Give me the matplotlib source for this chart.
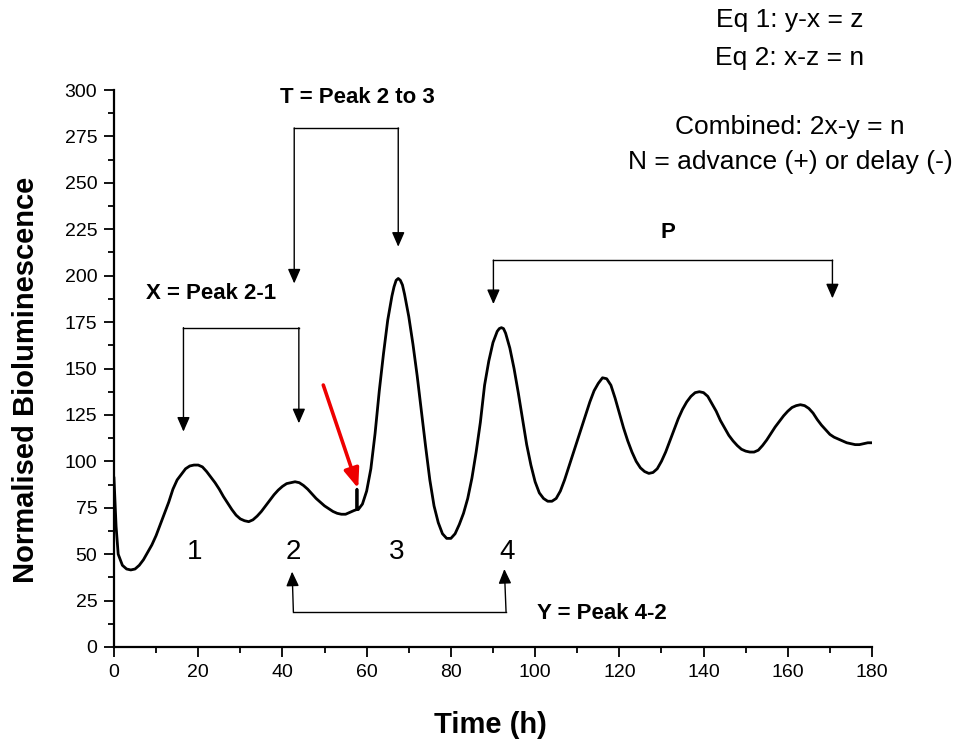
import matplotlib
matplotlib.use('Agg')
from matplotlib import pyplot as plt
from matplotlib.ticker import MultipleLocator

plt.rcParams['font.family'] = ['Liberation Sans', 'DejaVu Sans']

# time (h) and normalised bioluminescence
time_h = [0, 0.5, 1, 2, 3, 4, 5, 6, 7, 8, 9, 10, 11, 12, 13, 14, 15, 16, 17, 18,
          19, 20, 21, 22, 23, 24, 25, 26, 27, 28, 29, 30, 31, 32, 33, 34, 35, 36,
          37, 38, 39, 40, 41, 42, 43, 44, 45, 46, 47, 48, 49, 50, 51, 52, 53, 54,
          55, 56, 57, 57.6, 57.7, 57.8, 58, 59, 60, 61, 62, 63, 64, 65, 66, 66.5,
          67, 67.5, 68, 68.5, 69, 70, 71, 72, 73, 74, 75, 76, 77, 78, 79, 80, 81,
          82, 83, 84, 85, 86, 87, 88, 89, 90, 91, 91.5, 92, 92.5, 93, 94, 95, 96,
          97, 98, 99, 100,
          101, 102, 103, 104, 105, 106, 107, 108, 109, 110, 111, 112, 113, 114,
          115, 116, 117, 118, 119, 120, 121, 122, 123, 124, 125, 126, 127, 128,
          129, 130, 131, 132, 133, 134, 135, 136, 137, 138, 139, 140, 141, 142,
          143, 144, 145, 146, 147, 148, 149, 150, 151, 152, 153, 154, 155, 156,
          157, 158, 159, 160, 161, 162, 163, 164, 165, 166, 167, 168, 169, 170,
          171, 172, 173, 174, 175, 176, 177, 178, 179, 180]
biolum = [91, 65, 50, 44, 42, 41.5, 42, 44, 47, 51, 55, 60, 66, 72, 78, 85, 90, 93,
          96, 97.5, 98, 98, 97, 94.5, 91.5, 88.5, 85, 81, 77.5, 74, 71, 69, 68,
          67.5, 68.5, 70.5, 73, 76, 79, 82, 84.5, 86.5, 88, 88.5, 89, 88.5, 87,
          85, 82.5, 80, 78, 76, 74.5, 73, 72, 71.5, 71.5, 72.5, 73.5, 74, 85, 74,
          74, 77, 84, 96, 115, 138, 158, 176, 189, 194,
          197.5, 198.5, 197.5, 195, 190, 178, 163, 146, 127, 108, 90, 76, 67, 61,
          58.5, 58.5, 61, 66, 72, 80, 91, 105, 121, 141, 154, 164, 170, 171.5,
          172, 171.5, 169, 161, 150, 137, 123, 109, 98, 89, 83, 80,
          78.5, 78.5, 80, 84, 90, 97, 104, 111, 118, 125, 132, 138, 142, 145,
          144.5, 141, 134, 126, 118, 111, 105, 100, 96.5, 94.5, 93.5, 94, 96, 100,
          105, 111, 117, 123, 128, 132, 135, 137, 137.5, 137, 135, 131, 127, 122,
          118, 114, 111, 108.5, 106.5, 105.5, 105, 105, 106, 108.5, 111.5, 115,
          118.5, 121.5, 124.5, 127, 129, 130, 130.5, 130, 128.5, 126, 122.5,
          119.5, 117, 114.5, 113, 112, 111, 110, 109.5, 109, 109, 109.5, 110, 110]

peak_labels = ['1', '2', '3', '4']
peak_times = [19.2, 42.7, 67.2, 93.3]

fig = plt.figure(figsize=(9.61, 7.49), dpi=100)
ax = fig.add_axes([0.1186, 0.1362, 0.7888, 0.7436])

ax.plot(time_h, biolum, color='black', lw=2.0, solid_joinstyle='round')

ax.set_xlim(0, 180)
ax.set_ylim(0, 300)
ax.xaxis.set_major_locator(MultipleLocator(20))
ax.xaxis.set_minor_locator(MultipleLocator(10))
ax.yaxis.set_major_locator(MultipleLocator(25))
ax.yaxis.set_minor_locator(MultipleLocator(12.5))
ax.spines['top'].set_visible(False)
ax.spines['right'].set_visible(False)
for s in ['left', 'bottom']:
    ax.spines[s].set_linewidth(1.6)
ax.tick_params(which='major', direction='out', length=7, width=1.3, labelsize=14, pad=5)
ax.tick_params(which='minor', direction='out', length=4, width=1.3)

ax.set_xlabel('Time (h)', fontsize=21, fontweight='bold')
ax.set_ylabel('Normalised Bioluminescence', fontsize=21, fontweight='bold')
ax.xaxis.set_label_coords(0.496, -0.115)
ax.yaxis.set_label_coords(-0.098, 0.48)

arrow = dict(arrowstyle='-|>,head_length=0.8,head_width=0.35', color='black',
             lw=1.0, shrinkA=0, shrinkB=0, mutation_scale=11)


def bracket(x0, x1, y, tip0, tip1):
    ax.plot([x0[0], x1[0]], [y, y], color='black', lw=1.0, clip_on=False)
    ax.annotate('', xy=tip0, xytext=x0, arrowprops=arrow, annotation_clip=False)
    ax.annotate('', xy=tip1, xytext=x1, arrowprops=arrow, annotation_clip=False)


# X = Peak 2-1
bracket((16.5, 172), (43.9, 172), 172, (16.5, 116), (43.9, 120.5))
# T = Peak 2 to 3
bracket((42.8, 279.6), (67.5, 279.6), 279.6, (42.8, 195.8), (67.5, 215.6))
# P
bracket((90.1, 208.4), (170.6, 208.4), 208.4, (90.1, 184.7), (170.6, 187.8))
# Y = Peak 4-2
bracket((42.6, 19), (93.1, 19), 19, (42.3, 40.6), (92.7, 42))

bold = dict(fontsize=16, fontweight='bold', ha='center', va='center')
ax.text(23.0, 190.6, 'X = Peak 2-1', **bold)
ax.text(57.9, 296.2, 'T = Peak 2 to 3', clip_on=False, **bold)
ax.text(131.6, 223, 'P', **bold)
ax.text(115.9, 18.3, 'Y = Peak 4-2', **bold)

for lab, t in zip(peak_labels, peak_times):
    ax.text(t, 51, lab, fontsize=20, ha='center', va='center')

# red arrow marking the treatment time
ax.annotate('', xy=(58.0, 85.4), xytext=(49.7, 141.1),
            arrowprops=dict(arrowstyle='-|>,head_length=0.9,head_width=0.35',
                            color='#ee0000', lw=2.6, shrinkA=0, shrinkB=0,
                            mutation_scale=13))

note = dict(fontsize=19, ha='center', va='center', clip_on=False)
ax.text(160.5, 337.6, 'Eq 1: y-x = z', **note)
ax.text(160.5, 317.2, 'Eq 2: x-z = n', **note)
ax.text(160.5, 280, 'Combined: 2x-y = n', **note)
ax.text(160.5, 261.5, 'N = advance (+) or delay (-)', **note)

fig.savefig('out.png', dpi=100)
